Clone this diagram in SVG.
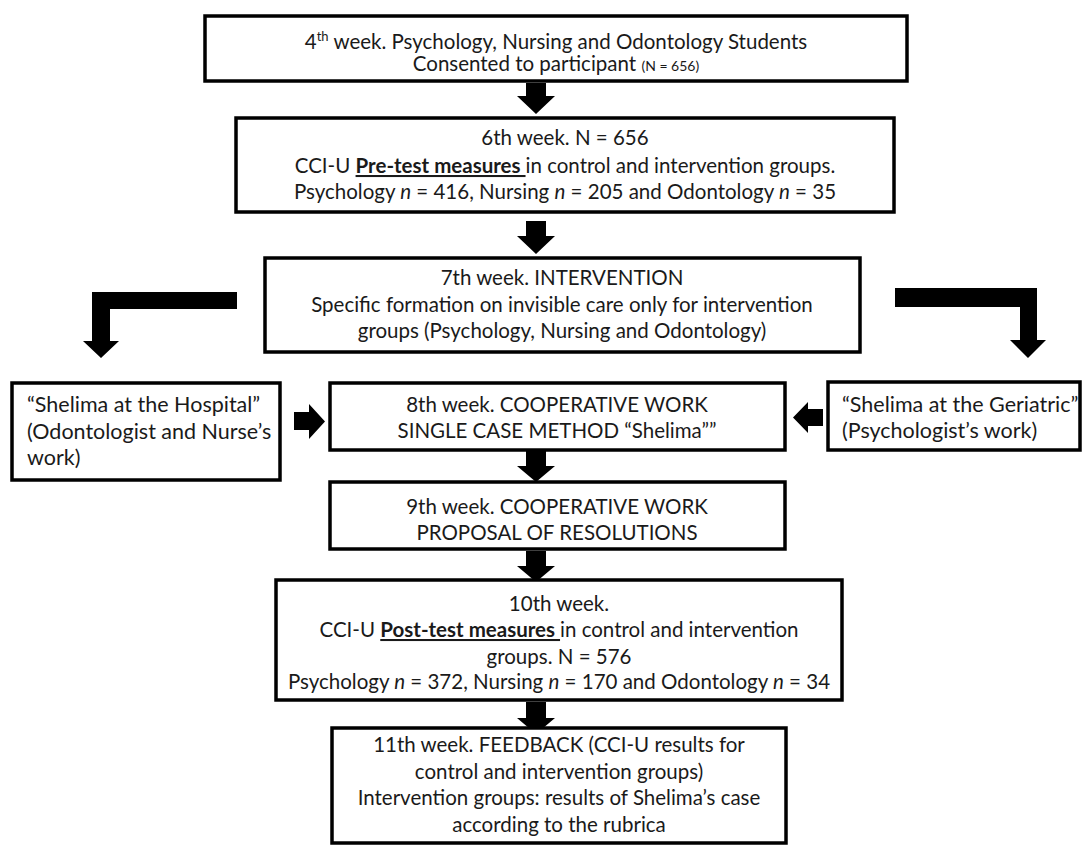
<svg xmlns="http://www.w3.org/2000/svg" width="1083" height="845" viewBox="0 0 1083 845">
<style>
.box{fill:#fff;stroke:#000;stroke-width:3.5}
.t{font-family:Lato,"Liberation Sans",sans-serif;font-size:20.5px;fill:#1a1a1a}
.s{font-size:21.5px}
.c{text-anchor:middle}
.b{font-weight:bold;text-decoration:underline}
.i{font-style:italic}
.arr{fill:#000}
</style>
<rect width="1083" height="845" fill="#fff"/>
<g id="connectors">
<polygon class="arr" points="526,83 546,83 546,96 555,96 536,114 517,96 526,96"/>
<polygon class="arr" points="526,221 546,221 546,236 555,236 536,254 517,236 526,236"/>
<polygon class="arr" points="237,292 92,292 92,341 83,341 101,358 119,341 110,341 110,309 237,309"/>
<polygon class="arr" points="895,288 1037,288 1037,340 1046,340 1028,358 1010,340 1020,340 1020,307 895,307"/>
<polygon class="arr" points="294,412 309,412 309,404 325,421.5 309,439 309,430 294,430"/>
<polygon class="arr" points="823,409 808,409 808,402 793,417.5 808,433 808,426 823,426"/>
<polygon class="arr" points="526,451 546,451 546,466 555,466 536,482 517,466 526,466"/>
<polygon class="arr" points="526,551 546,551 546,566 555,566 536,582 517,566 526,566"/>
<polygon class="arr" points="526,702 546,702 546,718 555,718 536,734 517,718 526,718"/>
</g>
<g id="n1">
<rect class="box" x="205" y="16" width="702" height="65"/>
<text class="t c" x="556" y="49">4<tspan font-size="13" dy="-8">th</tspan><tspan dy="8"> week. Psychology, Nursing and Odontology Students</tspan></text>
<text class="t c" x="556" y="71">Consented to participant <tspan font-size="14">(N = 656)</tspan></text>
</g>
<g id="n2">
<rect class="box" x="236" y="118" width="658" height="94"/>
<text class="t c" x="565" y="145">6th week. N = 656</text>
<text class="t c" x="565" y="173">CCI-U <tspan class="b">Pre-test measures </tspan>in control and intervention groups.</text>
<text class="t c" x="565" y="199">Psychology <tspan class="i">n</tspan> = 416, Nursing <tspan class="i">n</tspan> = 205 and Odontology <tspan class="i">n</tspan> = 35</text>
</g>
<g id="n3">
<rect class="box" x="265" y="258" width="595" height="94"/>
<text class="t c" x="562" y="285">7th week. INTERVENTION</text>
<text class="t c" x="562" y="312">Specific formation on invisible care only for intervention</text>
<text class="t c" x="562" y="338">groups (Psychology, Nursing and Odontology)</text>
</g>
<g id="n4">
<rect class="box" x="12" y="383" width="268" height="97"/>
<text class="t s" x="27" y="412">“Shelima at the Hospital”</text>
<text class="t s" x="27" y="439">(Odontologist and Nurse’s</text>
<text class="t s" x="27" y="465">work)</text>
</g>
<g id="n5">
<rect class="box" x="330" y="383" width="455" height="67"/>
<text class="t c" x="557" y="412">8th week. COOPERATIVE WORK</text>
<text class="t c" x="557" y="438">SINGLE CASE METHOD “Shelima””</text>
</g>
<g id="n6">
<rect class="box" x="828" y="382" width="252" height="68"/>
<text class="t s" x="842" y="412">“Shelima at the Geriatric”</text>
<text class="t s" x="842" y="438">(Psychologist’s work)</text>
</g>
<g id="n7">
<rect class="box" x="330" y="482" width="455" height="67"/>
<text class="t c" x="557" y="514">9th week. COOPERATIVE WORK</text>
<text class="t c" x="557" y="540">PROPOSAL OF RESOLUTIONS</text>
</g>
<g id="n8">
<rect class="box" x="276" y="580" width="566" height="120"/>
<text class="t c" x="559" y="611">10th week.</text>
<text class="t c" x="559" y="637">CCI-U <tspan class="b">Post-test measures </tspan>in control and intervention</text>
<text class="t c" x="559" y="664">groups. N = 576</text>
<text class="t c" x="559" y="689">Psychology <tspan class="i">n</tspan> = 372, Nursing <tspan class="i">n</tspan> = 170 and Odontology <tspan class="i">n</tspan> = 34</text>
</g>
<g id="n9">
<rect class="box" x="332" y="728" width="454" height="115"/>
<text class="t c" x="559" y="752">11th week. FEEDBACK (CCI-U results for</text>
<text class="t c" x="559" y="779">control and intervention groups)</text>
<text class="t c" x="559" y="805">Intervention groups: results of Shelima’s case</text>
<text class="t c" x="559" y="832">according to the rubrica</text>
</g>
</svg>
